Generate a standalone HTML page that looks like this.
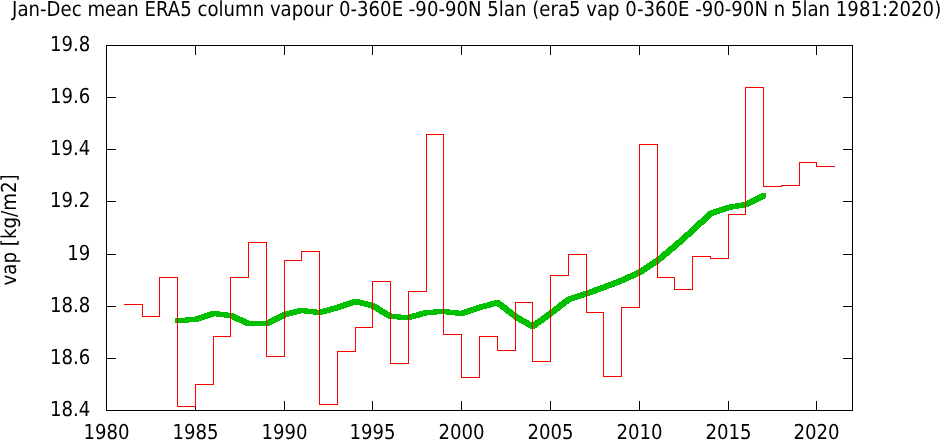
<!DOCTYPE html>
<html><head><meta charset="utf-8"><title>ERA5 column vapour</title>
<style>html,body{margin:0;padding:0;background:#fff}svg{display:block}text{fill:#000}</style></head>
<body>
<svg width="940" height="440" viewBox="0 0 940 440">
<rect width="940" height="440" fill="#fff"/>
<path d="M106.5 45.5H852.5V410.5H106.5Z M195.5 411V401M195.5 45V55 M284.5 411V401M284.5 45V55 M372.5 411V401M372.5 45V55 M461.5 411V401M461.5 45V55 M550.5 411V401M550.5 45V55 M639.5 411V401M639.5 45V55 M728.5 411V401M728.5 45V55 M816.5 411V401M816.5 45V55 M106 358.5H116M853 358.5H843 M106 306.5H116M853 306.5H843 M106 254.5H116M853 254.5H843 M106 201.5H116M853 201.5H843 M106 149.5H116M853 149.5H843 M106 97.5H116M853 97.5H843" fill="none" stroke="#000" stroke-width="1" shape-rendering="crispEdges"/>
<path d="M175 318H185V317H195V316H198V315H201V314H204V313H207V312H210V311H220V312H228V313H234V314H236V315H238V316H240V317H243V318H245V319H247V320H249V321H266V320H268V319H270V318H272V317H274V316H276V315H278V314H280V313H282V312H285V311H289V310H293V309H297V308H308V309H317V310H319V309H323V308H327V307H330V306H334V305H337V304H340V303H343V302H346V301H349V300H352V299H360V300H364V301H368V302H372V303H375V304H377V305H379V306H380V307H382V308H383V309H385V310H387V311H388V312H390V313H392V314H401V315H408V314H412V313H416V312H419V311H423V310H433V309H450V310H459V311H461V310H464V309H467V308H470V307H473V306H476V305H479V304H483V303H487V302H490V301H494V300H500V301H501V302H503V303H504V304H505V305H507V306H508V307H509V308H510V309H512V310H513V311H514V312H516V313H517V314H518V315H520V316H522V317H523V318H525V319H527V320H529V321H530V322H532V323H533V322H534V321H535V320H537V319H538V318H540V317H541V316H542V315H544V314H545V313H546V312H548V311H549V310H550V309H552V308H553V307H554V306H556V305H557V304H558V303H559V302H561V301H562V300H563V299H565V298H566V297H568V296H571V295H574V294H577V293H580V292H583V291H586V290H589V289H592V288H594V287H597V286H600V285H603V284H605V283H608V282H611V281H613V280H616V279H618V278H621V277H623V276H625V275H627V274H630V273H632V272H634V271H636V270H638V269H640V268H641V267H643V266H644V265H646V264H647V263H649V262H650V261H652V260H653V259H655V258H656V257H657V256H659V255H660V254H661V253H662V252H663V251H665V250H666V249H667V248H668V247H669V246H671V245H672V244H673V243H674V242H675V241H676V240H678V239H679V238H680V237H681V236H682V235H683V234H684V233H685V232H687V231H688V230H689V229H690V228H691V227H692V226H693V225H694V224H695V223H696V222H697V221H698V220H700V219H701V218H702V217H703V216H704V215H705V214H706V213H707V212H708V211H710V210H713V209H716V208H719V207H722V206H725V205H729V204H735V203H741V202H745V201H747V200H749V199H751V198H753V197H755V196H757V195H759V194H761V193H766V198H765V199H763V200H761V201H759V202H757V203H755V204H753V205H751V206H749V207H745V208H739V209H733V210H729V211H726V212H723V213H720V214H717V215H714V216H712V217H711V218H710V219H709V220H708V221H707V222H706V223H705V224H704V225H702V226H701V227H700V228H699V229H698V230H697V231H696V232H695V233H694V234H693V235H692V236H691V237H689V238H688V239H687V240H686V241H685V242H684V243H683V244H682V245H680V246H679V247H678V248H677V249H676V250H675V251H673V252H672V253H671V254H670V255H669V256H667V257H666V258H665V259H664V260H663V261H661V262H660V263H659V264H657V265H656V266H654V267H653V268H651V269H650V270H648V271H647V272H645V273H644V274H642V275H640V276H638V277H636V278H634V279H631V280H629V281H627V282H625V283H622V284H620V285H617V286H615V287H612V288H609V289H607V290H604V291H601V292H598V293H596V294H593V295H590V296H587V297H584V298H581V299H578V300H575V301H572V302H570V303H569V304H567V305H566V306H565V307H563V308H562V309H561V310H560V311H558V312H557V313H556V314H554V315H553V316H552V317H550V318H549V319H548V320H546V321H545V322H544V323H542V324H541V325H539V326H538V327H537V328H535V329H530V328H528V327H526V326H525V325H523V324H521V323H519V322H518V321H516V320H514V319H513V318H512V317H510V316H509V315H508V314H506V313H505V312H504V311H503V310H501V309H500V308H499V307H497V306H494V307H491V308H487V309H483V310H480V311H477V312H474V313H471V314H468V315H465V316H455V315H446V314H437V315H427V316H423V317H420V318H416V319H412V320H397V319H388V318H386V317H384V316H383V315H381V314H379V313H378V312H376V311H375V310H373V309H371V308H368V307H364V306H360V305H353V306H350V307H347V308H344V309H341V310H338V311H334V312H331V313H327V314H323V315H313V314H304V313H301V314H297V315H293V316H289V317H286V318H284V319H282V320H280V321H278V322H276V323H274V324H272V325H270V326H245V325H243V324H241V323H239V322H236V321H234V320H232V319H230V318H224V317H216V316H214V317H211V318H208V319H205V320H202V321H199V322H189V323H175Z" fill="#00c000" stroke="none" shape-rendering="crispEdges"/>
<path d="M124.0 304.5 H142.5 V316.5 H159.5 V277.5 H177.5 V406.5 H195.5 V384.5 H213.5 V336.5 H230.5 V277.5 H248.5 V242.5 H266.5 V356.5 H284.5 V260.5 H301.5 V251.5 H319.5 V404.5 H337.5 V351.5 H355.5 V327.5 H372.5 V281.5 H390.5 V363.5 H408.5 V291.5 H426.5 V134.5 H443.5 V334.5 H461.5 V377.5 H479.5 V336.5 H497.5 V350.5 H515.5 V302.5 H532.5 V361.5 H550.5 V275.5 H568.5 V254.5 H586.5 V312.5 H603.5 V376.5 H621.5 V307.5 H639.5 V144.5 H657.5 V277.5 H674.5 V289.5 H692.5 V256.5 H710.5 V258.5 H728.5 V214.5 H745.5 V87.5 H763.5 V186.5 H781.5 V185.5 H799.5 V162.5 H816.5 V166.5 H835.0" fill="none" stroke="#ff0000" stroke-width="1" shape-rendering="crispEdges"/>
<g font-family="'DejaVu Sans Condensed', 'DejaVu Sans', 'Liberation Sans', sans-serif" font-stretch="condensed" font-size="20.6" text-rendering="geometricPrecision">
<text transform="translate(12.1 16) scale(.978 1)" textLength="950.02" lengthAdjust="spacingAndGlyphs">Jan-Dec mean ERA5 column vapour 0-360E -90-90N 5lan (era5 vap 0-360E -90-90N n 5lan 1981:2020)</text>
<text transform="translate(90.3 416) scale(.978 1)" text-anchor="end" textLength="41.25" lengthAdjust="spacingAndGlyphs">18.4</text>
<text transform="translate(90.3 364) scale(.978 1)" text-anchor="end" textLength="41.25" lengthAdjust="spacingAndGlyphs">18.6</text>
<text transform="translate(90.3 312) scale(.978 1)" text-anchor="end" textLength="41.25" lengthAdjust="spacingAndGlyphs">18.8</text>
<text transform="translate(90.3 260) scale(.978 1)" text-anchor="end" textLength="23.58" lengthAdjust="spacingAndGlyphs">19</text>
<text transform="translate(90.3 207) scale(.978 1)" text-anchor="end" textLength="41.25" lengthAdjust="spacingAndGlyphs">19.2</text>
<text transform="translate(90.3 155) scale(.978 1)" text-anchor="end" textLength="41.25" lengthAdjust="spacingAndGlyphs">19.4</text>
<text transform="translate(90.3 103) scale(.978 1)" text-anchor="end" textLength="41.25" lengthAdjust="spacingAndGlyphs">19.6</text>
<text transform="translate(90.3 51) scale(.978 1)" text-anchor="end" textLength="41.25" lengthAdjust="spacingAndGlyphs">19.8</text>
<text transform="translate(106.5 439) scale(.978 1)" text-anchor="middle" textLength="47.14" lengthAdjust="spacingAndGlyphs">1980</text>
<text transform="translate(195.5 439) scale(.978 1)" text-anchor="middle" textLength="47.14" lengthAdjust="spacingAndGlyphs">1985</text>
<text transform="translate(284.5 439) scale(.978 1)" text-anchor="middle" textLength="47.14" lengthAdjust="spacingAndGlyphs">1990</text>
<text transform="translate(372.5 439) scale(.978 1)" text-anchor="middle" textLength="47.14" lengthAdjust="spacingAndGlyphs">1995</text>
<text transform="translate(461.5 439) scale(.978 1)" text-anchor="middle" textLength="47.14" lengthAdjust="spacingAndGlyphs">2000</text>
<text transform="translate(550.5 439) scale(.978 1)" text-anchor="middle" textLength="47.14" lengthAdjust="spacingAndGlyphs">2005</text>
<text transform="translate(639.5 439) scale(.978 1)" text-anchor="middle" textLength="47.14" lengthAdjust="spacingAndGlyphs">2010</text>
<text transform="translate(728.5 439) scale(.978 1)" text-anchor="middle" textLength="47.14" lengthAdjust="spacingAndGlyphs">2015</text>
<text transform="translate(816.5 439) scale(.978 1)" text-anchor="middle" textLength="47.14" lengthAdjust="spacingAndGlyphs">2020</text>
<text transform="translate(16 229.9) rotate(-90) scale(.984 1)" text-anchor="middle" textLength="113" lengthAdjust="spacingAndGlyphs">vap [kg/m2]</text>
</g></svg></body></html>
